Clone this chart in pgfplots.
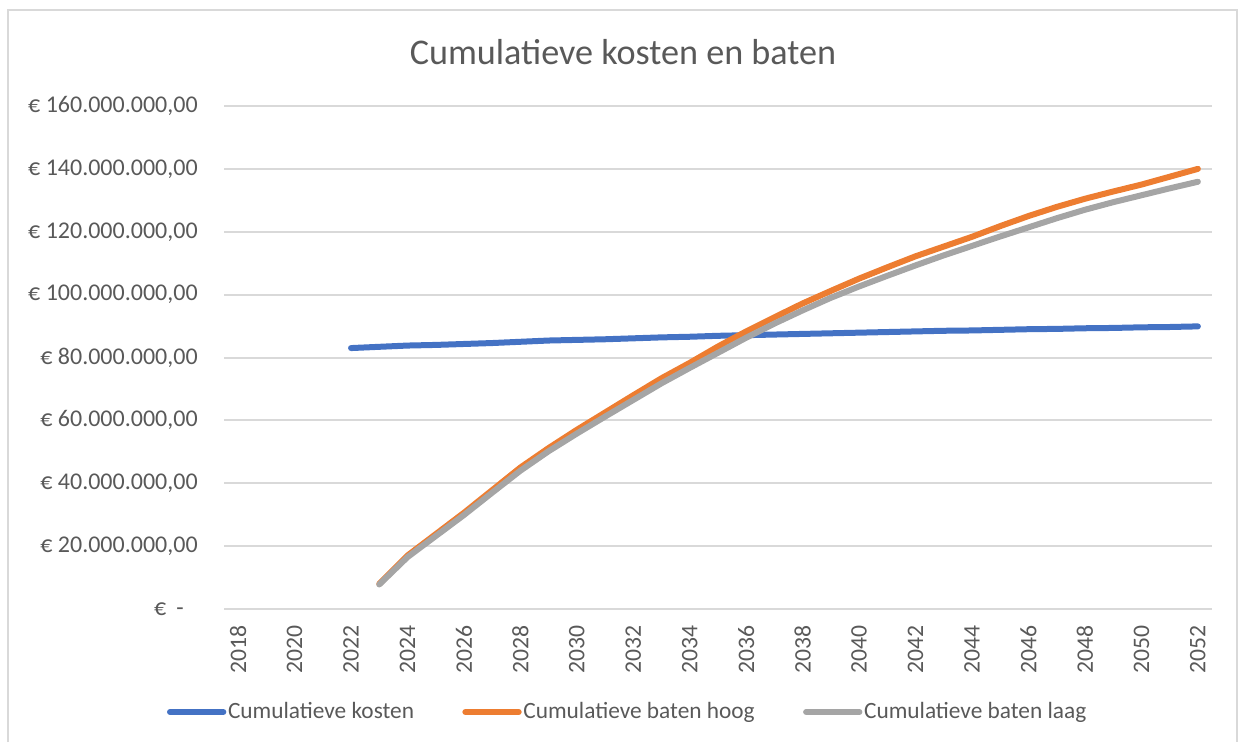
\documentclass[border=0pt]{standalone}
\usepackage{pgfplots}
\pgfplotsset{compat=1.18}
\usepackage{fontspec}
\setmainfont{Carlito}
\definecolor{xlblue}{HTML}{4472C4}
\definecolor{xlorange}{HTML}{ED7D31}
\definecolor{xlgray}{HTML}{A5A5A5}
\definecolor{gridgray}{HTML}{D9D9D9}
\definecolor{txtgray}{HTML}{595959}

% values in millions of euro
\pgfplotstableread{
year kosten
2022 83.0
2023 83.4
2024 83.8
2025 84.0
2026 84.3
2027 84.6
2028 85.0
2029 85.4
2030 85.6
2031 85.8
2032 86.1
2033 86.4
2034 86.6
2035 86.9
2036 87.1
2037 87.3
2038 87.5
2039 87.7
2040 87.9
2041 88.1
2042 88.3
2043 88.5
2044 88.6
2045 88.8
2046 89.0
2047 89.1
2048 89.3
2049 89.4
2050 89.6
2051 89.7
2052 89.9
}\kosten

\pgfplotstableread{
year hoog laag
2023 8.0 7.8
2024 17.0 16.5
2025 23.8 23.2
2026 30.6 29.9
2027 37.8 37.0
2028 45.0 44.0
2029 51.2 50.2
2030 57.0 55.8
2031 62.5 61.2
2032 68.0 66.5
2033 73.4 71.8
2034 78.3 76.7
2035 83.5 81.5
2036 88.3 86.3
2037 92.8 90.8
2038 97.2 95.0
2039 101.2 99.0
2040 105.1 102.6
2041 108.7 106.0
2042 112.2 109.3
2043 115.3 112.5
2044 118.4 115.5
2045 121.8 118.5
2046 125.0 121.4
2047 127.9 124.3
2048 130.5 127.0
2049 132.8 129.4
2050 135.0 131.6
2051 137.5 133.8
2052 140.0 135.9
}\baten

\begin{document}
\begin{tikzpicture}
\useasboundingbox (0,0) rectangle (744pt,445.2pt);
\draw[gridgray, line width=1.2pt] (4.8pt,0) -- (4.8pt,439.2pt) -- (742.2pt,439.2pt) -- (742.2pt,0);
\node[txtgray, font=\fontsize{21.7}{26}\selectfont] at (373.8pt,414pt) {Cumulatieve kosten en baten};
\begin{axis}[
  at={(134.4pt,79.8pt)}, anchor=south west,
  scale only axis, width=592.8pt, height=301.8pt,
  xmin=2017.5, xmax=2052.5, ymin=0, ymax=160,
  axis line style={draw=none},
  major tick length=0pt,
  ymajorgrids, grid style={gridgray, line width=1.2pt},
  ytick={0,20,...,160},
  yticklabels={{\hbox{€\kern6pt-\kern8.4pt}},{€ 20.000.000,00},{€ 40.000.000,00},{€ 60.000.000,00},{€ 80.000.000,00},{€ 100.000.000,00},{€ 120.000.000,00},{€ 140.000.000,00},{€ 160.000.000,00}},
  xtick={2018,2020,...,2052},
  xticklabels={2018,2020,2022,2024,2026,2028,2030,2032,2034,2036,2038,2040,2042,2044,2046,2048,2050,2052},
  yticklabel style={font=\fontsize{14.4}{17}\selectfont, text=txtgray, inner sep=0pt, xshift=-15.6pt},
  xticklabel style={font=\fontsize{14.2}{17}\selectfont, text=txtgray, yshift=-9.6pt, rotate=90, anchor=east, inner sep=0pt},
  every axis plot/.append style={line width=3.6pt, line cap=round, line join=round},
  legend columns=3,
  legend style={at={(0.4084,-0.2048)}, anchor=center, draw=none, fill=none,
    font=\fontsize{14}{17}\selectfont, text=txtgray, inner sep=0pt,
    /tikz/every even column/.append style={column sep=28pt},
    nodes={inner sep=1pt}},
  legend image code/.code={\draw[#1] (0pt,0pt) -- (32pt,0pt);},
]
\addplot[xlblue] table[x=year, y=kosten] {\kosten};
\addlegendentry{Cumulatieve kosten}
\addplot[xlorange] table[x=year, y=hoog] {\baten};
\addlegendentry{Cumulatieve baten hoog}
\addplot[xlgray] table[x=year, y=laag] {\baten};
\addlegendentry{Cumulatieve baten laag}
\end{axis}
\end{tikzpicture}
\end{document}
